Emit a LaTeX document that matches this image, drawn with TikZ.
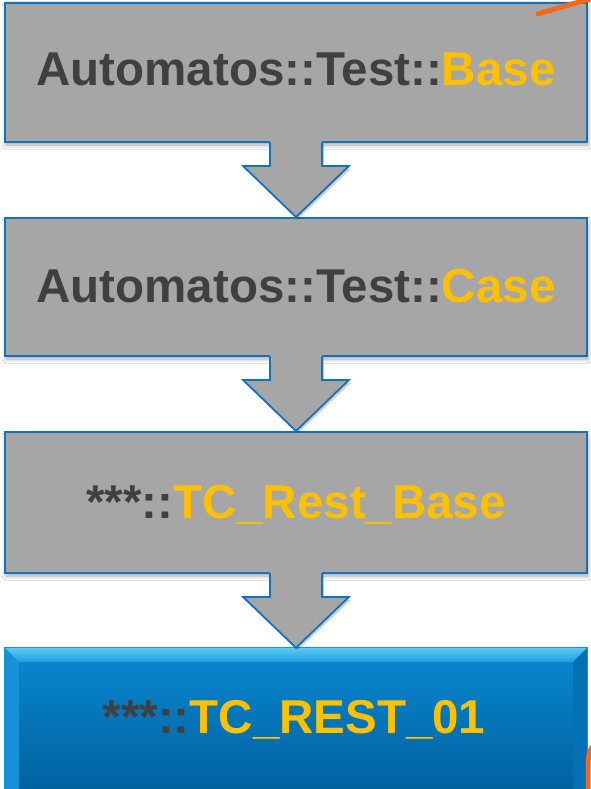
\documentclass[tikz,border=0pt]{standalone}
\usepackage{fontspec}
\setmainfont{Liberation Sans}
\usetikzlibrary{calc,shadows.blur}

\definecolor{boxgray}{HTML}{A6A6A6}
\definecolor{edgeblue}{HTML}{1372BC}
\definecolor{textdark}{HTML}{404040}
\definecolor{gold}{HTML}{FFC000}
\definecolor{accent}{HTML}{F06A1E}
\definecolor{blueTop}{HTML}{0A88D2}
\definecolor{blueBot}{HTML}{00629F}
\definecolor{bevelTop}{HTML}{5CC9F6}
\definecolor{bevelTopLow}{HTML}{1F9FE2}
\definecolor{bevelLeft}{HTML}{1790D8}
\definecolor{bevelRight}{HTML}{0470B4}

\tikzset{
  classbox/.style={rectangle, minimum width=582pt, inner sep=0pt,
    fill=boxgray, draw=edgeblue, line width=1.8pt,
    blur shadow={shadow xshift=1pt, shadow yshift=-3pt,
      shadow blur radius=4pt, shadow opacity=35}},
  leafbox/.style={rectangle, minimum width=582pt, inner sep=0pt,
    top color=blueTop, bottom color=blueBot},
  classname/.style={anchor=base, inner sep=0pt, text=textdark,
    font=\fontsize{47.5}{56}\selectfont\bfseries},
  arrowshadow/.style={fill=black, opacity=0.18},
  arrowfill/.style={fill=boxgray},
  arrowedge/.style={draw=edgeblue, line width=1.8pt, line join=miter},
}

% block arrow from the bottom of one box to the top of the next
\newcommand\flowarrow[2]{%
  \path[arrowshadow]
    ($(#1.south)+(-25,1)$) -- ($(#1.south)+(28,1)$) --
    ($(#1.south)+(28,26)$) -- ($(#1.south)+(55,26)$) -- ($(#2.north)+(2,2)$) --
    ($(#1.south)+(-51,26)$) -- ($(#1.south)+(-25,26)$) -- cycle;
  \path[arrowfill]
    ($(#1.south)+(-26,-4)$) -- ($(#1.south)+(26,-4)$) --
    ($(#1.south)+(26,23)$) -- ($(#1.south)+(53,23)$) -- (#2.north) --
    ($(#1.south)+(-53,23)$) -- ($(#1.south)+(-26,23)$) -- cycle;
  \path[arrowedge]
    ($(#1.south)+(-26,-0.5)$) -- ($(#1.south)+(-26,23)$) --
    ($(#1.south)+(-53,23)$) -- (#2.north) -- ($(#1.south)+(53,23)$) --
    ($(#1.south)+(26,23)$) -- ($(#1.south)+(26,-0.5)$);
}

\begin{document}
\begin{tikzpicture}[x=1pt,y=-1pt]
  \useasboundingbox (0,0) rectangle (591,789);
  \clip (0,0) rectangle (591,789);
  \fill[white] (0,0) rectangle (591,789);

  % class boxes
  \node[classbox, minimum height=139pt] (b1) at (296,72.5) {};
  \node[classbox, minimum height=138pt] (b2) at (296,287) {};
  \node[classbox, minimum height=141pt] (b3) at (296,502.5) {};
  \node[leafbox, minimum height=141pt] (b4) at (296,718.5) {};

  % bevel of the final box
  \shade[top color=bevelTop, bottom color=bevelTopLow]
    (b4.north west) -- (b4.north east) --
    ($(b4.north east)+(-14,14)$) -- ($(b4.north west)+(14,14)$) -- cycle;
  \fill[bevelLeft]
    (b4.north west) -- ($(b4.north west)+(14,14)$) --
    ($(b4.south west)+(14,0)$) -- (b4.south west) -- cycle;
  \fill[bevelRight]
    (b4.north east) -- ($(b4.north east)+(-14,14)$) --
    ($(b4.south east)+(-14,0)$) -- (b4.south east) -- cycle;
  \draw[edgeblue!70!cyan, line width=1pt]
    (b4.south west) -- (b4.north west) -- (b4.north east) -- (b4.south east);

  % inheritance arrows
  \flowarrow{b1}{b2}
  \flowarrow{b2}{b3}
  \flowarrow{b3}{b4}

  % class names
  \node[classname] (t1) at (296,86)  {Automatos::Test::\textcolor{gold}{Base}};
  \node[classname] (t2) at (296,302) {Automatos::Test::\textcolor{gold}{Case}};
  \node[classname] (t3) at (296,518) {***::\textcolor{gold}{TC\_Rest\_Base}};
  \node[classname] (t4) at (294,733) {***::\textcolor{gold}{TC\_REST\_01}};

  % orange strokes at the right edge
  \draw[accent, line width=5pt, line cap=round]
    (538,14) .. controls (558,8) and (575,3) .. (594,-2);
  \draw[accent, line width=5pt]
    (596,744) .. controls (589,748) and (588,756) .. (588,768) -- (588,795);
\end{tikzpicture}
\end{document}
